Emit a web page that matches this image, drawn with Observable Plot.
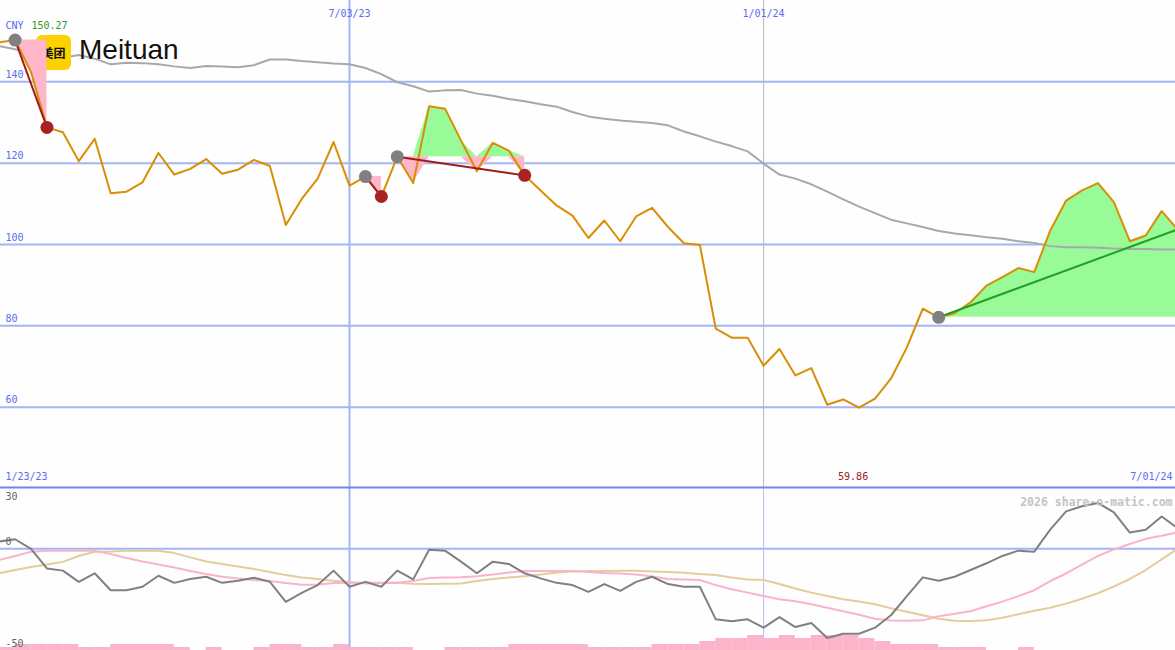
<!DOCTYPE html>
<html>
<head>
<meta charset="utf-8">
<script src="https://cdn.jsdelivr.net/npm/d3@7"></script>
<script src="https://cdn.jsdelivr.net/npm/@observablehq/plot@0.6"></script>
<style>
html, body { margin: 0; padding: 0; background: #fdfefd; }
#chart { position: relative; width: 1175px; height: 650px; overflow: hidden; background: #fdfefd; }
#chart > svg, #chart > div { position: absolute; left: 0; }
#logo { left: 36px !important; top: 35px; width: 35px; height: 35px; border-radius: 6px; background: #ffd100;
  font: bold 12px "Noto Sans CJK SC", sans-serif; color: #111; display: flex; align-items: center; justify-content: center; letter-spacing: 0; }
#name { left: 79px !important; top: 33px; font: 28px "Liberation Sans", Arial, sans-serif; color: #111; line-height: 34px; }
</style>
</head>
<body>
<div id="chart"></div>
<script>
// ---------- data (weekly, Mondays from 2023-01-30) ----------
const firstWeek = "2023-01-30";
const lastWeek = "2024-07-01";
const dataStart = "2023-01-23";
const dataEnd = "2024-07-01";
const currency = "CNY";
const company = "Meituan";
const companyCn = "美团";
const watermark = "2026 share-o-matic.com";

const price = [149.7, 150.27, 142.4, 128.8, 127.6, 120.5, 126.0, 112.6, 113.0, 115.3,
  122.5, 117.2, 118.6, 121.0, 117.4, 118.4, 120.8, 119.3, 104.8, 111.2,
  116.2, 125.2, 114.5, 116.7, 111.8, 121.6, 115.1, 134.0, 133.4, 125.6,
  118.0, 125.0, 123.1, 117.0, 113.3, 109.6, 107.1, 101.6, 105.9, 100.8,
  106.9, 109.0, 104.3, 100.3, 99.9, 79.3, 77.1, 77.1, 70.2, 74.3,
  67.8, 69.6, 60.6, 61.9, 59.86, 62.1, 67.0, 74.7, 84.2, 82.1,
  83.1, 85.8, 89.9, 92.0, 94.2, 93.2, 103.4, 110.8, 113.3, 115.1,
  110.4, 100.8, 102.2, 108.2, 103.7];

const movingAvg = [148.8, 148.0, 147.1, 146.1, 145.9, 146.6, 145.7, 144.3, 144.7, 144.6,
  144.3, 143.8, 143.4, 143.9, 143.8, 143.6, 144.1, 145.5, 145.5, 145.1,
  144.8, 144.5, 144.3, 143.4, 141.9, 139.9, 138.9, 137.6, 137.9, 138.0,
  137.1, 136.6, 135.8, 135.2, 134.5, 133.9, 132.6, 131.5, 130.9, 130.5,
  130.2, 129.9, 129.3, 127.8, 126.6, 125.3, 124.2, 122.9, 119.9, 117.2,
  116.2, 114.8, 113.0, 111.1, 109.3, 107.7, 106.1, 105.2, 104.3, 103.3,
  102.7, 102.3, 101.8, 101.4, 100.8, 100.4, 99.6, 99.3, 99.3, 99.2,
  99.0, 98.9, 98.9, 98.8, 98.8];

const oscillator = [3.5, 4.6, -0.1, -9.7, -10.8, -16.3, -12.1, -20.4, -20.4, -18.7,
  -13.3, -16.8, -14.9, -13.8, -16.8, -15.8, -14.3, -16.3, -26.1, -21.7,
  -17.9, -10.8, -18.7, -16.3, -18.7, -10.8, -15.1, -0.6, -1.0, -6.4,
  -12.1, -6.4, -7.5, -12.1, -14.6, -16.8, -17.9, -21.2, -17.4, -20.7,
  -16.3, -13.8, -17.4, -18.7, -18.7, -34.7, -35.7, -34.7, -38.8, -33.6,
  -38.5, -36.5, -43.9, -41.8, -41.8, -38.8, -32.7, -23.3, -14.1, -15.8,
  -13.8, -10.5, -7.2, -3.6, -1.0, -1.5, 9.3, 18.3, 20.8, 22.4,
  17.8, 7.9, 9.3, 15.8, 10.1];

const fastSignal = [-5.6, -3.6, -1.5, -1.1, -1.1, -1.0, -1.1, -2.6, -4.6, -6.3,
  -7.8, -9.3, -11.0, -12.5, -13.8, -14.7, -15.4, -15.9, -16.9, -17.7,
  -17.7, -16.9, -16.8, -16.8, -16.8, -16.8, -15.9, -14.4, -14.2, -14.0,
  -13.5, -12.7, -11.7, -11.0, -11.0, -11.0, -11.0, -11.5, -12.0, -12.2,
  -12.7, -13.7, -14.9, -15.2, -15.4, -17.9, -19.9, -21.6, -23.3, -24.8,
  -25.8, -27.3, -29.0, -30.7, -32.5, -34.4, -35.3, -35.4, -35.2, -33.2,
  -32.0, -30.7, -28.3, -26.0, -23.3, -20.4, -15.9, -12.2, -7.8, -3.6,
  -0.4, 2.3, 4.8, 6.3, 8.0];

const slowSignal = [-12.1, -10.5, -9.0, -7.8, -6.5, -3.6, -1.5, -1.4, -1.1, -1.0,
  -1.0, -2.2, -4.3, -6.3, -7.5, -8.8, -10.0, -11.5, -13.0, -14.2,
  -14.9, -15.8, -16.4, -17.1, -16.9, -16.8, -17.2, -17.4, -17.3, -17.1,
  -15.9, -14.9, -14.2, -13.5, -12.7, -11.7, -11.2, -11.0, -11.0, -10.9,
  -10.9, -11.2, -11.5, -11.8, -12.5, -13.0, -14.2, -15.2, -15.4, -17.4,
  -19.6, -21.6, -23.3, -24.8, -26.0, -27.3, -29.3, -31.0, -32.7, -34.4,
  -35.4, -35.5, -35.2, -33.9, -32.2, -30.5, -29.0, -27.0, -24.6, -21.9,
  -18.6, -14.9, -10.5, -5.3, -0.1];

const volume = [10, 20, 20, 20, 20, 10, 10, 20, 20, 20,
  20, 10, 0, 10, 0, 0, 10, 20, 20, 10,
  10, 20, 10, 10, 10, 10, 0, 0, 10, 10,
  10, 10, 20, 20, 20, 20, 20, 10, 10, 10,
  10, 20, 20, 20, 30, 40, 40, 50, 40, 50,
  40, 50, 50, 50, 40, 30, 20, 20, 20, 10,
  10, 10, 0, 0, 10, 0, 0, 0, 0, 0,
  0, 0, 0, 0, 0];

const signals = [
  {from: "2023-02-06", to: "2023-02-20", kind: "down"},
  {from: "2023-07-10", to: "2023-07-17", kind: "down"},
  {from: "2023-07-24", to: "2023-09-18", kind: "down"},
  {from: "2024-03-18", to: "2024-07-01", kind: "up"}
];

const mainTicks = [140, 120, 100, 80, 60];
const lowerTicks = [30, 0, -50];
const dateTicks = ["2023-07-03", "2024-01-01"];

// ---------- build ----------
const W = 1175;
const dates = d3.utcMonday.range(new Date(firstWeek), d3.utcDay.offset(new Date(lastWeek), 1));
const rows = dates.map((date, i) => ({
  date, next: d3.utcMonday.offset(date, 1),
  price: price[i], ma: movingAvg[i], osc: oscillator[i], fast: fastSignal[i], slow: slowSignal[i], vol: volume[i]
}));
const fmt = d3.utcFormat("%-m/%d/%y");
const gridDates = dateTicks.map(s => new Date(s));
const yearDates = gridDates.filter(d => d.getUTCMonth() === 0);
const midDates = gridDates.filter(d => d.getUTCMonth() !== 0);

const X = {type: "utc", domain: [new Date(Date.UTC(2023, 0, 30, 14)), new Date(Date.UTC(2024, 5, 30, 2))], axis: null};
const base = {width: W, marginTop: 0, marginRight: 0, marginBottom: 0, marginLeft: 0, x: X, style: {background: "transparent", overflow: "visible"}};
const mono = "DejaVu Sans Mono";
const blueGrid = "#a4b4f4";

const sigs = signals.map(s => {
  const f = new Date(s.from), t = new Date(s.to);
  const seg = rows.filter(r => r.date >= f && r.date <= t);
  return {...s, seg, level: seg[0].price, d1: seg[0].date, p1: seg[0].price, d2: seg[seg.length - 1].date, p2: seg[seg.length - 1].price};
});

const minRow = rows.reduce((a, b) => (b.price < a.price ? b : a));
const maxVal = d3.max(price);

const mainY = {domain: [40, 160], axis: null};
const lowerY = {domain: [-50, 30], axis: null};

const greenAreas = sigs.map(s =>
  Plot.areaY(s.seg, {x: "date", y1: () => s.level, y2: d => Math.max(d.price, s.level), fill: "#98fb98"}));
const pinkAreas = sigs.map(s =>
  Plot.areaY(s.seg, {x: "date", y1: () => s.level, y2: d => Math.min(d.price, s.level), fill: "#ffb6c8"}));

// layer 1: main grid, gains fill, moving average
const mainBack = Plot.plot({...base, height: 488, y: mainY, marks: [
  Plot.ruleY(mainTicks, {stroke: blueGrid, strokeWidth: 2}),
  Plot.ruleX(midDates, {stroke: blueGrid, strokeWidth: 2}),
  Plot.ruleX(yearDates, {stroke: "#b8b8b8", strokeWidth: 1}),
  ...greenAreas,
  Plot.line(rows, {x: "date", y: "ma", stroke: "#a8a8a8", strokeWidth: 2})
]});

// layer 2: lower grid
const lowerBack = Plot.plot({...base, height: 164, marginTop: 1, y: lowerY, marks: [
  Plot.ruleY([0], {stroke: blueGrid, strokeWidth: 2}),
  Plot.ruleX(midDates, {stroke: blueGrid, strokeWidth: 2}),
  Plot.ruleX(yearDates, {stroke: "#b4c0f6", strokeWidth: 1}),
  Plot.ruleY([30], {stroke: "#7284f0", strokeWidth: 2})
]});

// layer 3: volume
const volPlot = Plot.plot({...base, height: 30, y: {domain: [0, 100], axis: null}, marks: [
  Plot.rectY(rows, {x1: "date", x2: "next", y1: 0, y2: "vol", fill: "#fbb4c9"})
]});

// layer 5: main front
const mainFront = Plot.plot({...base, height: 488, y: mainY, marks: [
  ...pinkAreas,
  Plot.line(rows, {x: "date", y: "price", stroke: "#d98e04", strokeWidth: 2}),
  Plot.link(sigs, {x1: "d1", y1: "p1", x2: "d2", y2: "p2", stroke: d => d.kind === "up" ? "#22a024" : "#a01c1c", strokeWidth: 2}),
  Plot.dot(sigs, {x: "d1", y: "p1", r: 6.5, fill: "#808080"}),
  Plot.dot(sigs.filter(s => s.kind === "down"), {x: "d2", y: "p2", r: 6.5, fill: "#a82222"}),
  Plot.text(mainTicks, {y: d => d, text: d => String(d), frameAnchor: "left", dx: 5, dy: -7, textAnchor: "start", fill: "#5a6cf0", fontSize: 10, fontFamily: mono}),
  Plot.text(gridDates, {x: d => d, text: d => fmt(d), frameAnchor: "top", dy: 9, fill: "#5a6cf0", fontSize: 10, fontFamily: mono}),
  Plot.text([currency], {text: d => d, frameAnchor: "top-left", dx: 5, dy: 21, textAnchor: "start", fill: "#5a6cf0", fontSize: 10, fontFamily: mono}),
  Plot.text([maxVal], {text: d => d.toFixed(2), frameAnchor: "top-left", dx: 31, dy: 21, textAnchor: "start", fill: "#2a9a2a", fontSize: 10, fontFamily: mono}),
  Plot.text([minRow], {x: "date", text: d => d.price.toFixed(2), frameAnchor: "bottom", dx: -6, dy: -9, fill: "#a02020", fontSize: 10, fontFamily: mono}),
  Plot.text([dataStart], {text: d => fmt(new Date(d)), frameAnchor: "bottom-left", dx: 5, dy: -9, textAnchor: "start", fill: "#5a6cf0", fontSize: 10, fontFamily: mono}),
  Plot.text([dataEnd], {text: d => fmt(new Date(d)), frameAnchor: "bottom-right", dx: -3, dy: -9, textAnchor: "end", fill: "#5a6cf0", fontSize: 10, fontFamily: mono})
]});

// layer 6: lower front
const lowerFront = Plot.plot({...base, height: 164, marginTop: 1, y: lowerY, marks: [
  Plot.line(rows, {x: "date", y: "slow", stroke: "#e4cc9c", strokeWidth: 2}),
  Plot.line(rows, {x: "date", y: "fast", stroke: "#f9b4cc", strokeWidth: 2}),
  Plot.line(rows, {x: "date", y: "osc", stroke: "#808080", strokeWidth: 2}),
  Plot.text(lowerTicks.filter(v => v === d3.max(lowerTicks)), {y: d => d, text: d => String(d), frameAnchor: "left", dx: 5, dy: 9, textAnchor: "start", fill: "#666", fontSize: 10, fontFamily: mono}),
  Plot.text(lowerTicks.filter(v => v !== d3.max(lowerTicks)), {y: d => d, text: d => String(d), frameAnchor: "left", dx: 5, dy: -7, textAnchor: "start", fill: "#666", fontSize: 10, fontFamily: mono}),
  Plot.text([watermark], {text: d => d, frameAnchor: "top-right", dx: -3, dy: 10, textAnchor: "end", fill: "#c4c4c4", fontWeight: "bold", fontSize: 11.5, fontFamily: mono})
]});

const chart = document.getElementById("chart");
function place(el, top) { el.style.position = "absolute"; el.style.top = top + "px"; el.style.left = "0px"; chart.appendChild(el); }
place(mainBack, 0);
place(lowerBack, 486);
place(volPlot, 620);
const logo = document.createElement("div"); logo.id = "logo"; logo.textContent = companyCn; chart.appendChild(logo); logo.style.top = "35px";
const name = document.createElement("div"); name.id = "name"; name.textContent = company; chart.appendChild(name); name.style.top = "33px";
place(mainFront, 0);
place(lowerFront, 486);
</script>
</body>
</html>
